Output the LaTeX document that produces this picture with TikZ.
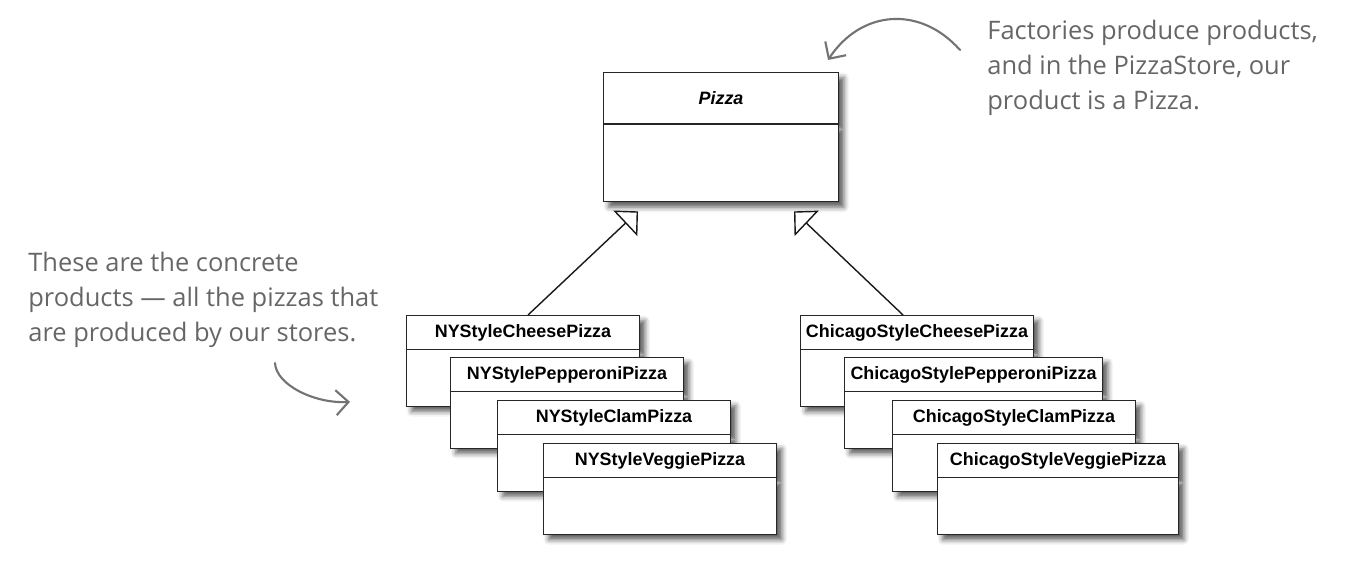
\documentclass[tikz,border=0pt]{standalone}
\usepackage{fontspec}
\setmainfont{Liberation Sans}
\newfontfamily\notefont{Open Sans}
\usetikzlibrary{shapes.multipart,arrows.meta,shadows.blur}

\tikzset{
  umlclass/.style={rectangle split, rectangle split parts=2, draw=black!85, fill=white,
    line width=0.6pt, anchor=north west, minimum width=4.66cm, inner xsep=2pt, inner ysep=4.6pt,
    rectangle split empty part height=22.5pt, rectangle split empty part depth=0pt,
    font=\fontsize{10.2}{12}\selectfont\bfseries,
    blur shadow={shadow xshift=3pt, shadow yshift=-3pt, shadow blur radius=3pt, shadow opacity=65}},
  inherit/.style={draw=black!90, line width=0.8pt, -{Triangle[fill=white, length=3.5mm, width=7mm]}},
  note/.style={anchor=north west, align=left, text=black!60, inner sep=0pt,
    font=\notefont\fontsize{14.5}{20}\selectfont},
  notearrow/.style={draw=black!55, line width=1.2pt, line cap=round, -{Straight Barb[length=2.5mm, width=5mm]}},
}

\begin{document}
\begin{tikzpicture}[x=0.02cm, y=-0.02cm]
  \useasboundingbox (0,0) rectangle (1355,580);

  % abstract product
  \node[umlclass, minimum width=4.7cm, inner ysep=10.6pt, rectangle split empty part height=17.5pt] (pizza) at (603,72) {\itshape Pizza};

  % NY style pizzas
  \node[umlclass] (nych) at (406,315) {NYStyleCheesePizza};
  \node[umlclass] (nype) at (450,357) {NYStylePepperoniPizza};
  \node[umlclass] (nycl) at (497,400) {NYStyleClamPizza};
  \node[umlclass] (nyve) at (543,443) {NYStyleVeggiePizza};

  % Chicago style pizzas
  \node[umlclass] (chch) at (800,315) {ChicagoStyleCheesePizza};
  \node[umlclass, minimum width=5.16cm] (chpe) at (844,357) {ChicagoStylePepperoniPizza};
  \node[umlclass, minimum width=4.86cm] (chcl) at (892,400) {ChicagoStyleClamPizza};
  \node[umlclass, minimum width=4.82cm] (chve) at (937,443) {ChicagoStyleVeggiePizza};

  % inheritance
  \draw[inherit] ([shift={(5,0)}]nych.north) -- ([shift={(35,9)}]pizza.south west);
  \draw[inherit] ([shift={(-14,0)}]chch.north) -- ([shift={(-45,9)}]pizza.south east);

  % notes
  \node[note] (factnote) at (987,20) {Factories produce products,\\and in the PizzaStore, our\\product is a Pizza.};
  \node[note] (prodnote) at (28,252) {These are the concrete\\products — all the pizzas that\\are produced by our stores.};

  \draw[notearrow] ([shift={(-27,30)}]factnote.north west) .. controls +(-40,-45) and +(33,-50) .. ([shift={(-11,-12)}]pizza.north east);
  \draw[notearrow] ([shift={(247,111)}]prodnote.north west) .. controls +(1,22) and +(-35,2) .. ([shift={(-56,41)}]nych.west);
\end{tikzpicture}
\end{document}
